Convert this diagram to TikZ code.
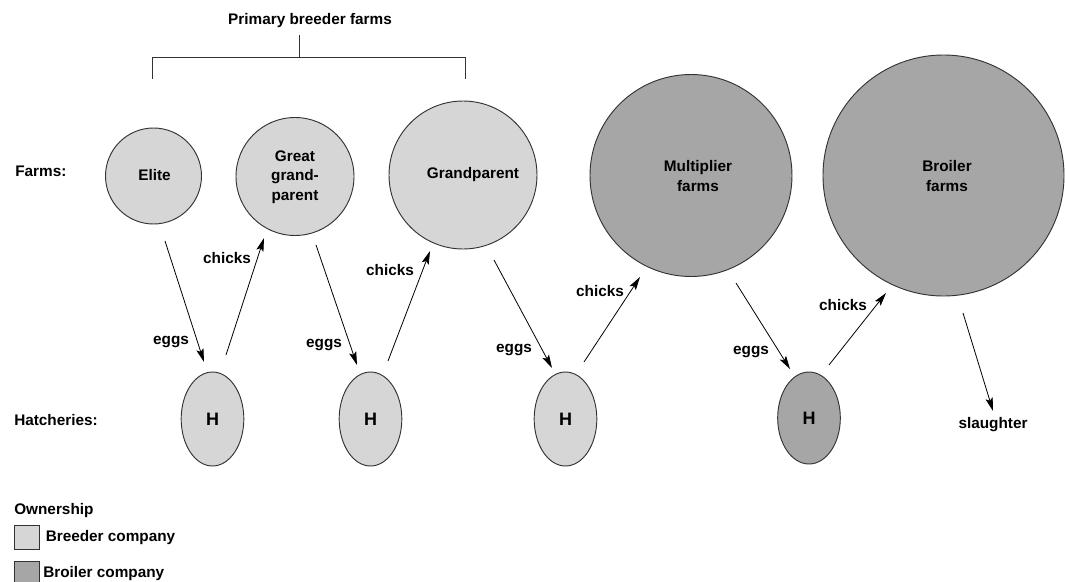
\documentclass[tikz,border=0pt]{standalone}
\usepackage{fontspec}
\setmainfont{Liberation Sans}
\usetikzlibrary{arrows.meta,shapes.geometric}
\definecolor{lightfill}{HTML}{D6D6D6}
\definecolor{darkfill}{HTML}{A6A6A6}
\definecolor{edgecol}{HTML}{333333}
\begin{document}
\begin{tikzpicture}[x=0.75pt,y=-0.75pt,
  lbl/.style={font=\fontsize{11.5pt}{15pt}\selectfont\bfseries, inner sep=0pt, align=center},
  farm/.style={circle, draw=edgecol, line width=0.7pt, inner sep=0pt},
  hatch/.style={ellipse, draw=edgecol, line width=0.7pt, minimum width=47pt, minimum height=70.5pt, inner sep=0pt, font=\fontsize{13.5pt}{16pt}\selectfont\bfseries},
  arr/.style={draw=black, line width=0.6pt, -{Stealth[length=10pt,width=5.5pt,inset=2pt]}},
  brk/.style={draw=edgecol, line width=0.75pt},
  legbox/.style={draw=edgecol, line width=0.7pt, minimum width=18.5pt, minimum height=18pt, inner sep=0pt, anchor=north west},
]
\useasboundingbox (0,0) rectangle (1065,582);

% title and bracket
\node[lbl, anchor=base] (title) at (310,24) {Primary breeder farms};
\coordinate (stemtop) at (299,35);
\coordinate (stembot) at (299,57);
\coordinate (bl) at (152,57);
\coordinate (br) at (465,57);
\coordinate (bll) at (152,79);
\coordinate (brl) at (465,79);
\draw[brk] (stemtop) -- (stembot);
\draw[brk] (bll) -- (bl) -- (br) -- (brl);

% row labels
\node[lbl, anchor=base west] (farmslbl) at (15,176) {Farms:};
\node[lbl, anchor=west] (hatchlbl) at (14,420) {Hatcheries:};

% farms
\node[farm, fill=lightfill, minimum size=72pt] (elite) at (153.5,176) {};
\node[lbl, anchor=base] (elitet) at (154.5,180) {Elite};
\node[farm, fill=lightfill, minimum size=88.5pt] (ggp) at (295,176.5) {};
\node[lbl, font=\fontsize{11.5pt}{14.5pt}\selectfont\bfseries] (ggpt) at (295,177) {Great\\grand-\\parent};
\node[farm, fill=lightfill, minimum size=111pt] (gp) at (463,175) {};
\node[lbl, anchor=base] (gpt) at (473,178) {Grandparent};
\node[farm, fill=darkfill, minimum size=151.5pt] (mult) at (691,175.5) {};
\node[lbl] (multt) at (698,176) {Multiplier\\farms};
\node[farm, fill=darkfill, minimum size=180.75pt] (broiler) at (943.5,175.5) {};
\node[lbl] (broilert) at (947,176) {Broiler\\farms};

% hatcheries
\node[hatch, fill=lightfill] (h1) at (212.5,419) {H};
\node[hatch, fill=lightfill] (h2) at (370.5,419) {H};
\node[hatch, fill=lightfill] (h3) at (565.5,419) {H};
\node[hatch, fill=darkfill, minimum height=69pt] (h4) at (809,418) {H};

% arrow end points
\coordinate (a1s) at (165,241);  \coordinate (a1e) at (204,362);
\coordinate (a2s) at (226,355);  \coordinate (a2e) at (264,238);
\coordinate (a3s) at (316,245);  \coordinate (a3e) at (357,365);
\coordinate (a4s) at (388,361);  \coordinate (a4e) at (430,251);
\coordinate (a5s) at (494,260);  \coordinate (a5e) at (552,368);
\coordinate (a6s) at (584,362);  \coordinate (a6e) at (640,277);
\coordinate (a7s) at (736,283);  \coordinate (a7e) at (790,369);
\coordinate (a8s) at (829,365);  \coordinate (a8e) at (886,293);
\coordinate (a9s) at (963,313);  \coordinate (a9e) at (993,411);

\draw[arr] (a1s) -- (a1e);
\draw[arr] (a2s) -- (a2e);
\draw[arr] (a3s) -- (a3e);
\draw[arr] (a4s) -- (a4e);
\draw[arr] (a5s) -- (a5e);
\draw[arr] (a6s) -- (a6e);
\draw[arr] (a7s) -- (a7e);
\draw[arr] (a8s) -- (a8e);
\draw[arr] (a9s) -- (a9e);

% arrow labels
\node[lbl] (l1) at (171,342) {eggs};
\node[lbl] (l2) at (227,258) {chicks};
\node[lbl] (l3) at (324,345) {eggs};
\node[lbl] (l4) at (390,270) {chicks};
\node[lbl] (l5) at (514,350) {eggs};
\node[lbl] (l6) at (600,291) {chicks};
\node[lbl] (l7) at (751,352) {eggs};
\node[lbl] (l8) at (843,305) {chicks};
\node[lbl] (l9) at (993,425) {slaughter};

% legend
\node[lbl, anchor=base west] (own) at (14,514) {Ownership};
\node[legbox, fill=lightfill] (box1) at (14,525) {};
\node[lbl, anchor=west] (own1) at (45.5,538) {Breeder company};
\node[legbox, fill=darkfill] (box2) at (14,561) {};
\node[lbl, anchor=west] (own2) at (43,574) {Broiler company};
\end{tikzpicture}
\end{document}
